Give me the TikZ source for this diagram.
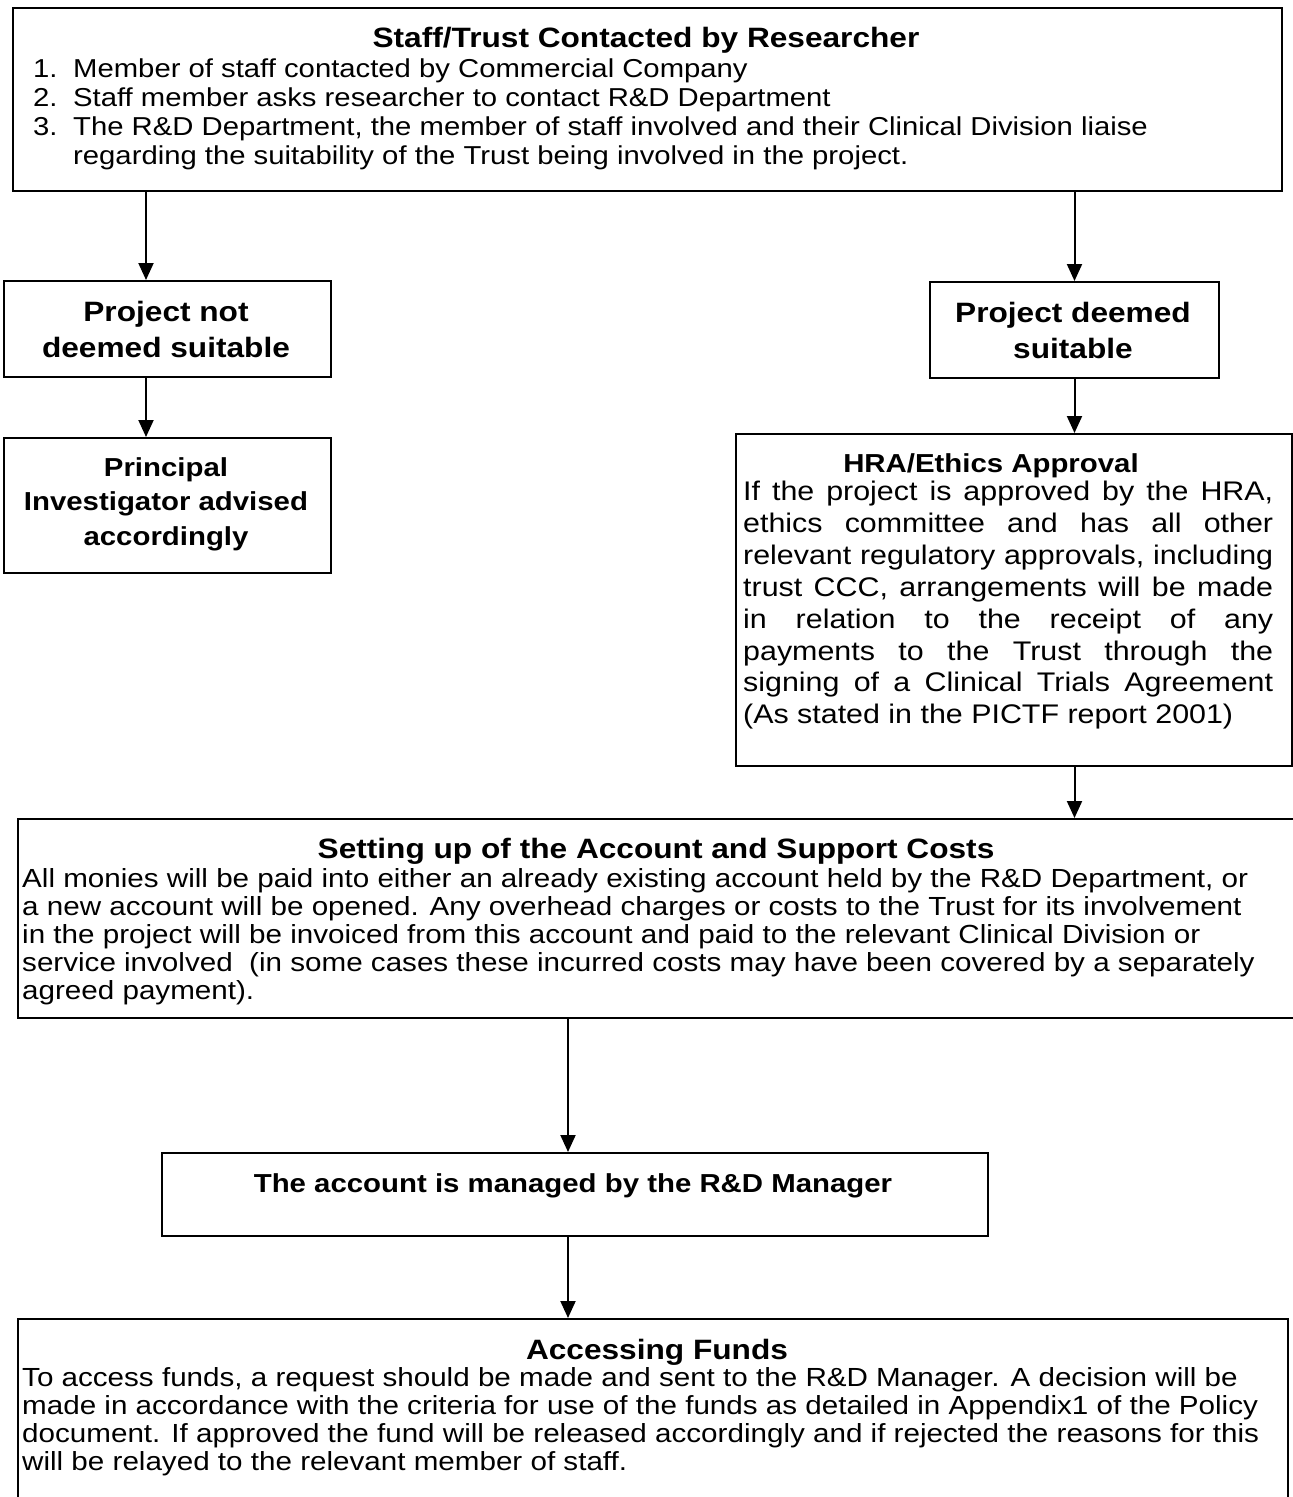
\documentclass[tikz,border=0pt]{standalone}
\usepackage{fontspec}
\setmainfont{Liberation Sans}[FakeStretch=1.13]
\usetikzlibrary{arrows.meta}
\newcommand\fsz[1]{\fontsize{#1pt}{#1pt}\selectfont}
\begin{document}
\begin{tikzpicture}[x=1pt,y=-1pt,
  box/.style={draw=black,line width=2pt,inner sep=0pt,anchor=north west},
  conn/.style={line width=2pt,-{Triangle[width=15pt,length=17pt]}},
  lt/.style={inner sep=0pt,anchor=base west},
  ct/.style={inner sep=0pt,anchor=base},
  ttl/.style={ct,font=\fsz{28}\bfseries},
  bb/.style={ct,font=\fsz{28}\bfseries},
  sb/.style={ct,font=\fsz{26}\bfseries},
  tb/.style={lt,font=\fsz{25.9}},
  hb/.style={lt,font=\fsz{26.9}},
  mb/.style={lt,font=\fsz{26.2}}]
\useasboundingbox (0,0) rectangle (1293,1497);
\clip (0,0) rectangle (1293,1497);
\fill[white] (0,0) rectangle (1293,1497);

% top box
\node[box,minimum width=1269pt,minimum height=183pt] (top) at (12,7) {};
\node[ttl] (toptitle) at (646,47) {Staff/Trust Contacted by Researcher};
\node[tb] (n1) at (33,77) {1.};
\node[tb] (l1) at (73,77) {Member of staff contacted by Commercial Company};
\node[tb] (n2) at (33,106) {2.};
\node[tb] (l2) at (73,106) {Staff member asks researcher to contact R\&D Department};
\node[tb] (n3) at (33,135) {3.};
\node[tb] (l3) at (73,135) {The R\&D Department, the member of staff involved and their Clinical Division liaise};
\node[tb] (l4) at (73,164) {regarding the suitability of the Trust being involved in the project.};

% left branch
\node[box,minimum width=327pt,minimum height=96pt] (ns) at (3,280) {};
\node[bb] (ns1) at (166,321) {Project not};
\node[bb] (ns2) at (166,357) {deemed suitable};
\node[box,minimum width=327pt,minimum height=135pt] (pi) at (3,437) {};
\node[sb] (pi1) at (166,476) {Principal};
\node[sb] (pi2) at (166,510) {Investigator advised};
\node[sb] (pi3) at (166,545) {accordingly};

% right branch
\node[box,minimum width=289pt,minimum height=96pt] (ds) at (929,281) {};
\node[bb] (ds1) at (1073,322) {Project deemed};
\node[bb] (ds2) at (1073,358) {suitable};

\node[box,minimum width=556pt,minimum height=332pt] (hra) at (735,433) {};
\node[sb] (hrat) at (991,472) {HRA/Ethics Approval};
\node[hb] (h1) at (743,500) {\makebox[530pt][s]{If the project is approved by the HRA,}};
\node[hb] (h2) at (743,532) {\makebox[530pt][s]{ethics committee and has all other}};
\node[hb] (h3) at (743,564) {\makebox[530pt][s]{relevant regulatory approvals, including}};
\node[hb] (h4) at (743,596) {\makebox[530pt][s]{trust CCC, arrangements will be made}};
\node[hb] (h5) at (743,628) {\makebox[530pt][s]{in relation to the receipt of any}};
\node[hb] (h6) at (743,660) {\makebox[530pt][s]{payments to the Trust through the}};
\node[hb] (h7) at (743,691) {\makebox[530pt][s]{signing of a Clinical Trials Agreement}};
\node[hb] (h8) at (743,723) {(As stated in the PICTF report 2001)};

% setting up box
\node[box,minimum width=1290pt,minimum height=199pt] (su) at (17,818) {};
\node[ttl] (sut) at (656,858) {Setting up of the Account and Support Costs};
\node[mb] (s1) at (22,887) {All monies will be paid into either an already existing account held by the R\&D Department, or};
\node[mb] (s2) at (22,915) {a new account will be opened. Any overhead charges or costs to the Trust for its involvement};
\node[mb] (s3) at (22,943) {in the project will be invoiced from this account and paid to the relevant Clinical Division or};
\node[mb] (s4) at (22,971) {service involved\ \ (in some cases these incurred costs may have been covered by a separately};
\node[mb] (s5) at (22,999) {agreed payment).};

% account box
\node[box,minimum width=826pt,minimum height=83pt] (acc) at (161,1152) {};
\node[sb] (acct) at (573,1192) {The account is managed by the R\&D Manager};

% accessing funds box
\node[box,minimum width=1270pt,minimum height=220pt] (af) at (17,1318) {};
\node[ttl] (aft) at (657,1359) {Accessing Funds};
\node[mb] (a1) at (22,1386) {To access funds, a request should be made and sent to the R\&D Manager. A decision will be};
\node[mb] (a2) at (22,1414) {made in accordance with the criteria for use of the funds as detailed in Appendix1 of the Policy};
\node[mb] (a3) at (22,1442) {document. If approved the fund will be released accordingly and if rejected the reasons for this};
\node[mb] (a4) at (22,1470) {will be relayed to the relevant member of staff.};

% connectors
\draw[conn] (top.south -| 146,0) -- (ns.north -| 146,0);
\draw[conn] (ns.south -| 146,0) -- (pi.north -| 146,0);
\draw[conn] (top.south -| ds.north) -- (ds.north);
\draw[conn] (ds.south) -- (hra.north -| ds.south);
\draw[conn] (hra.south -| ds.south) -- (su.north -| ds.south);
\draw[conn] (su.south -| 568,0) -- (acc.north -| 568,0);
\draw[conn] (acc.south -| 568,0) -- (af.north -| 568,0);
\end{tikzpicture}
\end{document}
